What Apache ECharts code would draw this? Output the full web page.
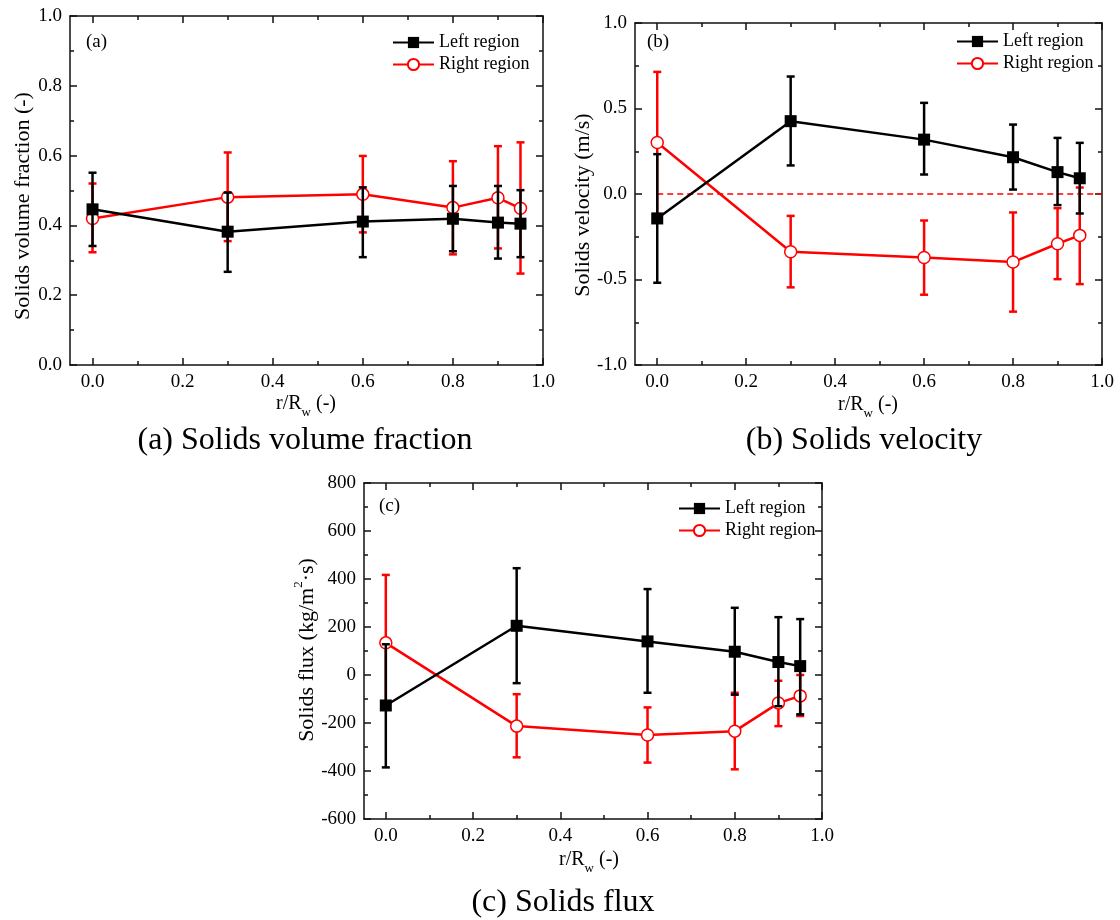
<!DOCTYPE html>
<html>
<head>
<meta charset="utf-8">
<script src="https://cdn.jsdelivr.net/npm/echarts@6/dist/echarts.min.js"></script>
<style>
html,body{margin:0;padding:0;background:#fff;}
#chart{width:1120px;height:920px;}
</style>
</head>
<body>
<div id="chart"></div>
<script>
// ---- data ----
const radialPos = [0, 0.3, 0.6, 0.8, 0.9, 0.95];
const xTickValues = [0, 0.2, 0.4, 0.6, 0.8, 1.0];
const xMinorTickValues = [0.1, 0.3, 0.5, 0.7, 0.9];

// (a) solids volume fraction
const fracLeft      = [0.446, 0.382, 0.411, 0.419, 0.408, 0.405];
const fracLeftLow   = [0.341, 0.267, 0.309, 0.326, 0.305, 0.309];
const fracLeftHigh  = [0.551, 0.494, 0.509, 0.513, 0.513, 0.501];
const fracRight     = [0.420, 0.481, 0.489, 0.451, 0.479, 0.449];
const fracRightLow  = [0.323, 0.355, 0.380, 0.317, 0.334, 0.262];
const fracRightHigh = [0.520, 0.609, 0.599, 0.584, 0.627, 0.638];

// (b) solids velocity
const velLeft      = [-0.143, 0.426, 0.318, 0.215, 0.128, 0.092];
const velLeftLow   = [-0.519, 0.167, 0.114, 0.026, -0.065, -0.114];
const velLeftHigh  = [0.233, 0.687, 0.533, 0.406, 0.328, 0.299];
const velRight     = [0.301, -0.338, -0.371, -0.398, -0.291, -0.242];
const velRightLow  = [-0.117, -0.546, -0.589, -0.688, -0.498, -0.527];
const velRightHigh = [0.714, -0.128, -0.155, -0.108, -0.083, 0.038];
const zeroLineX = [0, 1.0];
const zeroLineY = [0, 0];

// (c) solids flux
const fluxLeft      = [-127, 205, 140, 97, 54, 37];
const fluxLeftLow   = [-385, -34, -74, -82, -130, -164];
const fluxLeftHigh  = [128, 445, 358, 280, 241, 233];
const fluxRight     = [134, -213, -250, -234, -117, -87];
const fluxRightLow  = [-142, -343, -365, -393, -213, -171];
const fluxRightHigh = [417, -80, -135, -74, -24, 0];

const seriesNames = ['Left region', 'Right region'];

// ---- styling / layout ----
const FONT = "'Liberation Serif', 'Times New Roman', serif";
const AX = '#111';
const RED = '#ff0000';

const grids = [
  {left: 70, top: 16, width: 473, height: 349},
  {left: 635, top: 23, width: 467, height: 342},
  {left: 364, top: 483, width: 458, height: 336}
];

function xAxesFor(g) {
  const base = {
    type: 'value', gridIndex: g, min: -0.05, max: 1.0,
    splitLine: {show: false}
  };
  const line = {show: true, onZero: false, lineStyle: {color: AX, width: 1.5}};
  return [
    Object.assign({}, base, {
      position: 'bottom', axisLine: line,
      axisTick: {show: true, inside: true, length: 7, customValues: xTickValues, lineStyle: {color: AX, width: 1.5}},
      axisLabel: {show: true, customValues: xTickValues, formatter: v => v.toFixed(1), margin: 8,
        color: '#000', fontFamily: FONT, fontSize: 19}
    }),
    Object.assign({}, base, {
      position: 'bottom', axisLine: {show: false, onZero: false},
      axisTick: {show: true, inside: true, length: 4, customValues: xMinorTickValues, lineStyle: {color: AX, width: 1.5}},
      axisLabel: {show: false}
    }),
    Object.assign({}, base, {
      position: 'top', axisLine: line,
      axisTick: {show: true, inside: true, length: 7, customValues: xTickValues, lineStyle: {color: AX, width: 1.5}},
      axisLabel: {show: false}
    }),
    Object.assign({}, base, {
      position: 'top', axisLine: {show: false, onZero: false},
      axisTick: {show: true, inside: true, length: 4, customValues: xMinorTickValues, lineStyle: {color: AX, width: 1.5}},
      axisLabel: {show: false}
    })
  ];
}

function yAxesFor(g, min, max, interval, fmt) {
  const base = {
    type: 'value', gridIndex: g, min, max, interval,
    splitLine: {show: false},
    axisLine: {show: true, onZero: false, lineStyle: {color: AX, width: 1.5}},
    axisTick: {show: true, inside: true, length: 7, lineStyle: {color: AX, width: 1.5}},
    minorTick: {show: true, splitNumber: 2, length: 4, lineStyle: {color: AX, width: 1.5}},
    minorSplitLine: {show: false}
  };
  return [
    Object.assign({}, base, {
      position: 'left',
      axisLabel: {show: true, formatter: fmt, margin: 8, color: '#000', fontFamily: FONT, fontSize: 19}
    }),
    Object.assign({}, base, {position: 'right', axisLabel: {show: false}})
  ];
}

const fmt1 = v => v.toFixed(1);
const fmt0 = v => String(Math.round(v));

const xAxis = [].concat(xAxesFor(0), xAxesFor(1), xAxesFor(2));
const yAxis = [].concat(
  yAxesFor(0, 0, 1, 0.2, fmt1),
  yAxesFor(1, -1, 1, 0.5, fmt1),
  yAxesFor(2, -600, 800, 200, fmt0)
);

function pairs(xs, ys) { return xs.map((x, i) => [x, ys[i]]); }

function lineSeries(name, g, vals, black) {
  return {
    type: 'line', name, xAxisIndex: g * 4, yAxisIndex: g * 2,
    data: pairs(radialPos, vals),
    z: black ? 4 : 3,
    symbol: black ? 'rect' : 'circle',
    symbolSize: 12,
    showAllSymbol: true,
    itemStyle: black ? {color: '#000'} : {color: '#fff', borderColor: RED, borderWidth: 1.5},
    lineStyle: {color: black ? '#000' : RED, width: 2.5},
    emphasis: {disabled: true},
    silent: true
  };
}

function errSeries(name, g, lows, highs, color) {
  return {
    type: 'custom', name, xAxisIndex: g * 4, yAxisIndex: g * 2,
    z: color === '#000' ? 5 : 2,
    silent: true,
    data: radialPos.map((x, i) => [x, lows[i], highs[i]]),
    encode: {x: 0, y: [1, 2]},
    renderItem: function (params, api) {
      const x = api.value(0);
      const pLo = api.coord([x, api.value(1)]);
      const pHi = api.coord([x, api.value(2)]);
      const hw = 4;
      const st = {stroke: color, lineWidth: 2.5};
      return {
        type: 'group',
        children: [
          {type: 'line', shape: {x1: pLo[0], y1: pLo[1], x2: pHi[0], y2: pHi[1]}, style: st},
          {type: 'line', shape: {x1: pLo[0] - hw, y1: pLo[1], x2: pLo[0] + hw, y2: pLo[1]}, style: st},
          {type: 'line', shape: {x1: pHi[0] - hw, y1: pHi[1], x2: pHi[0] + hw, y2: pHi[1]}, style: st}
        ]
      };
    }
  };
}

const series = [
  errSeries('a-right-err', 0, fracRightLow, fracRightHigh, RED),
  lineSeries(seriesNames[1], 0, fracRight, false),
  lineSeries(seriesNames[0], 0, fracLeft, true),
  errSeries('a-left-err', 0, fracLeftLow, fracLeftHigh, '#000'),

  {
    type: 'line', name: 'zero', xAxisIndex: 4, yAxisIndex: 2, z: 1,
    data: pairs(zeroLineX, zeroLineY), symbol: 'none', silent: true,
    lineStyle: {color: RED, width: 1.5, type: [6, 4]}
  },
  errSeries('b-right-err', 1, velRightLow, velRightHigh, RED),
  lineSeries(seriesNames[1], 1, velRight, false),
  lineSeries(seriesNames[0], 1, velLeft, true),
  errSeries('b-left-err', 1, velLeftLow, velLeftHigh, '#000'),

  errSeries('c-right-err', 2, fluxRightLow, fluxRightHigh, RED),
  lineSeries(seriesNames[1], 2, fluxRight, false),
  lineSeries(seriesNames[0], 2, fluxLeft, true),
  errSeries('c-left-err', 2, fluxLeftLow, fluxLeftHigh, '#000')
];

function legendAt(left, top) {
  return {
    left, top, orient: 'vertical', itemWidth: 41, itemHeight: 14, itemGap: 3, padding: 0,
    selectedMode: false, data: seriesNames,
    textStyle: {fontFamily: FONT, fontSize: 18, color: '#000', lineHeight: 19}
  };
}

function txt(x, y, text, size, opts) {
  return Object.assign({
    type: 'text', x, y, silent: true,
    style: Object.assign({text, fontFamily: FONT, fontSize: size, fill: '#000', align: 'center', verticalAlign: 'middle'},
      (opts && opts.style) || {})
  }, (opts && opts.el) || {});
}

const subRich = {
  n: {fontFamily: FONT, fontSize: 20, lineHeight: 20, verticalAlign: 'middle'},
  sub: {fontFamily: FONT, fontSize: 13, lineHeight: 30, verticalAlign: 'bottom'},
  sup: {fontFamily: FONT, fontSize: 13, lineHeight: 30, verticalAlign: 'top'},
  y: {fontFamily: FONT, fontSize: 22, lineHeight: 22, verticalAlign: 'middle'}
};

const xTitle = '{n|r/R}{sub|w}{n| (-)}';

const graphic = [
  txt(86, 42, '(a)', 19, {style: {align: 'left'}}),
  txt(647, 42, '(b)', 19, {style: {align: 'left'}}),
  txt(379, 506, '(c)', 19, {style: {align: 'left'}}),

  txt(23, 206, 'Solids volume fraction (-)', 22, {el: {rotation: Math.PI / 2}}),
  txt(583, 205, 'Solids velocity (m/s)', 22, {el: {rotation: Math.PI / 2}}),
  txt(307, 650, '{y|Solids flux (kg/m}{sup|2}{y|·s)}', 22, {el: {rotation: Math.PI / 2}, style: {rich: subRich}}),

  txt(306, 404, xTitle, 20, {style: {rich: subRich}}),
  txt(868, 405, xTitle, 20, {style: {rich: subRich}}),
  txt(589, 860, xTitle, 20, {style: {rich: subRich}}),

  txt(305, 441, '(a) Solids volume fraction', 32),
  txt(864, 441, '(b) Solids velocity', 32),
  txt(563, 903, '(c) Solids flux', 32)
];

const option = {
  animation: false,
  backgroundColor: '#fff',
  grid: grids,
  xAxis, yAxis,
  legend: [legendAt(392, 33), legendAt(956, 32), legendAt(678, 499)],
  series,
  graphic
};

const chart = echarts.init(document.getElementById('chart'), null, {renderer: 'canvas'});
chart.setOption(option);
</script>
</body>
</html>
